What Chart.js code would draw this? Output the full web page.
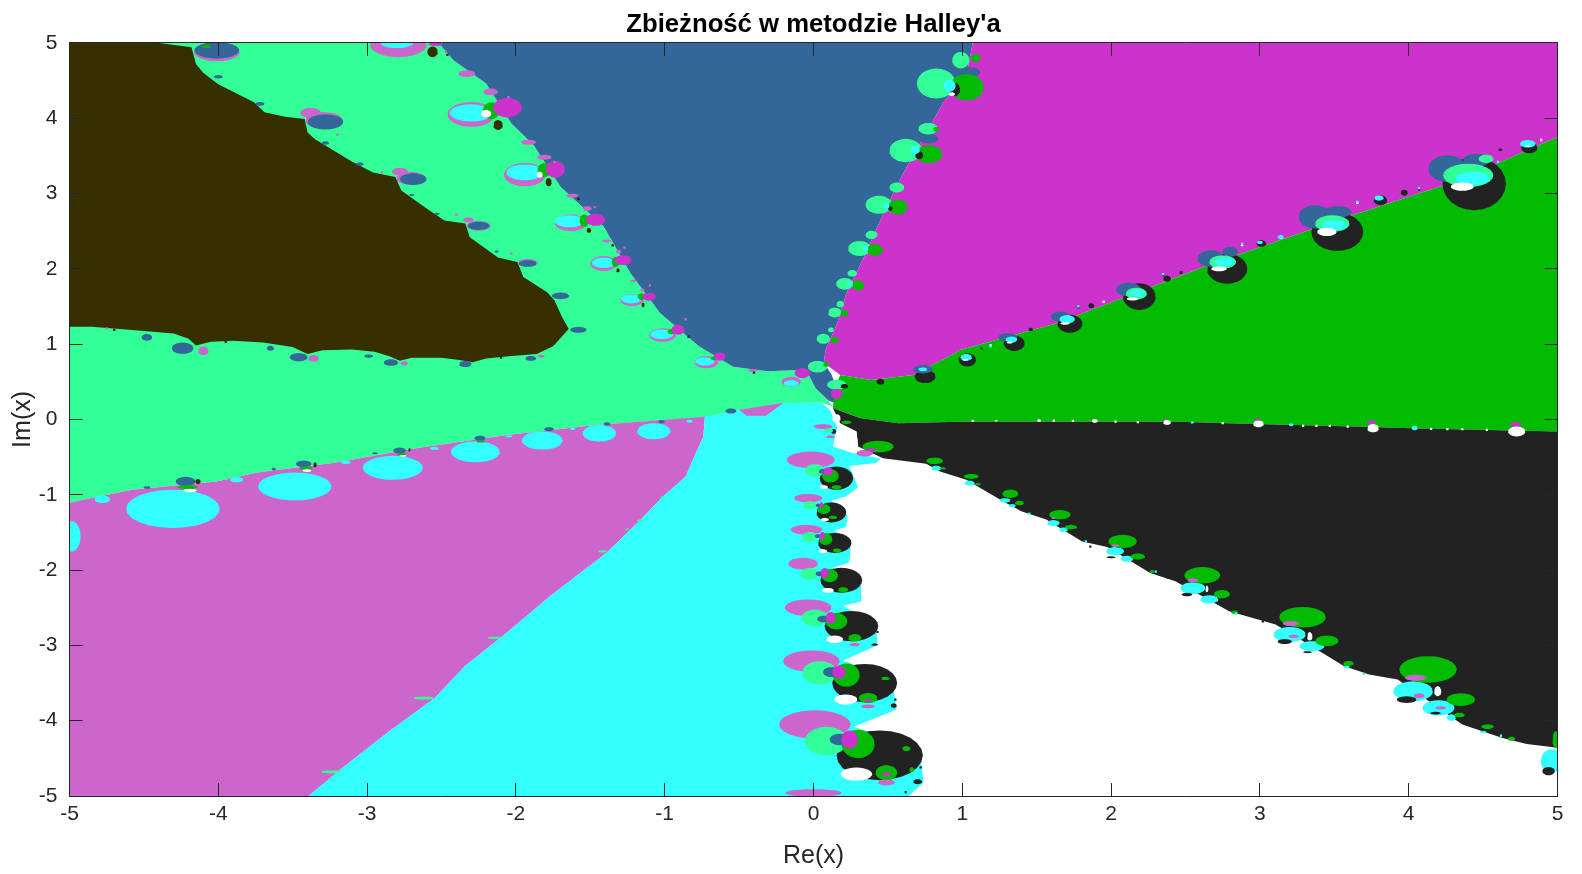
<!DOCTYPE html>
<html>
<head>
<meta charset="utf-8">
<title>Zbieżność w metodzie Halley'a</title>
<script src="https://cdn.jsdelivr.net/npm/chart.js@4"></script>
<style>
html,body{margin:0;padding:0;background:#fff;}
canvas{display:block;}
</style>
</head>
<body>
<canvas id="chart" width="1582" height="874"></canvas>
<script>
const xTicks = [-5,-4,-3,-2,-1,0,1,2,3,4,5];
const yTicks = [-5,-4,-3,-2,-1,0,1,2,3,4,5];

/* basin outlines as [Re, Im] */
const springBasin = [[-5,5],[-2.52,5],[-2.42,4.77],[-2.2,4.46],[-2.03,3.93],[-1.88,3.64],[-1.7,3.09],[-1.41,2.56],[-1.23,1.94],[-1.03,1.41],[-.77,.97],[-.54,.7],[-.31,.64],[-.05,.66],[.014,.414],[.104,.237],[.13,.17],[.053,.225],[-.2,.215],[-.49,.127],[-.73,.03],[-1.46,-.073],[-2.06,-.206],[-2.66,-.38],[-3.23,-.58],[-3.74,-.705],[-4.01,-.824],[-4.58,-.935],[-4.91,-1.067],[-5,-1.11]];
const orchidBasin = [[-5,-1.11],[-4.91,-1.067],[-4.58,-.935],[-4.01,-.824],[-3.74,-.705],[-3.23,-.58],[-2.66,-.38],[-2.06,-.206],[-1.46,-.073],[-.73,.037],[-.74,-.23],[-.8,-.49],[-.86,-.76],[-1.01,-1.02],[-1.16,-1.33],[-1.392,-1.775],[-1.765,-2.337],[-2.07,-2.845],[-2.342,-3.274],[-2.545,-3.7],[-2.851,-4.14],[-3.156,-4.61],[-3.393,-5],[-5,-5]];
const cyanBasin = [[-.73,.037],[-.49,.127],[-.2,.215],[.053,.225],[.11,.13],[.16,-.1],[.13,-.36],[.25,-.44],[.45,-.52],[.42,-.58],[.24,-.62],[.3,-.9],[.22,-1.02],[.12,-1.08],[.2,-1.2],[.23,-1.28],[.22,-1.43],[.14,-1.47],[.22,-1.6],[.25,-1.7],[.24,-1.9],[.13,-1.97],[.25,-2.1],[.32,-2.2],[.32,-2.42],[.2,-2.47],[.3,-2.6],[.42,-2.72],[.43,-3],[.2,-3.2],[.35,-3.32],[.53,-3.5],[.56,-3.85],[.27,-4.08],[.45,-4.2],[.72,-4.5],[.74,-4.82],[.64,-5],[-3.393,-5],[-3.156,-4.61],[-2.851,-4.14],[-2.545,-3.7],[-2.342,-3.274],[-2.07,-2.845],[-1.765,-2.337],[-1.392,-1.775],[-1.16,-1.33],[-1.01,-1.02],[-.86,-.76],[-.8,-.49],[-.74,-.23]];
const blueBasin = [[-2.52,5],[1.07,5],[1.03,4.6],[.87,4.2],[.81,3.99],[.64,3.4],[.59,3.22],[.46,2.69],[.34,2.16],[.22,1.67],[.16,1.28],[.08,.92],[.07,.75],[.12,.6],[.15,.45],[.14,.22],[.1,.25],[.014,.414],[-.05,.66],[-.31,.64],[-.54,.7],[-.77,.97],[-1.03,1.41],[-1.23,1.94],[-1.41,2.56],[-1.7,3.09],[-1.88,3.64],[-2.03,3.93],[-2.2,4.46],[-2.42,4.77]];
const magentaBasin = [[1.07,5],[5,5],[5,3.75],[4.34,3.175],[3.56,2.67],[2.63,2.03],[1.63,1.275],[.98,.92],[.95,.88],[.67,.59],[.39,.525],[.18,.59],[.07,.75],[.08,.92],[.16,1.28],[.22,1.67],[.34,2.16],[.46,2.69],[.59,3.22],[.64,3.4],[.81,3.99],[.87,4.2],[1.03,4.6]];
const greenBasin = [[.18,.59],[.39,.525],[.67,.59],[.95,.88],[.98,.92],[1.63,1.275],[2.63,2.03],[3.56,2.67],[4.34,3.175],[5,3.75],[5,-.16],[4.08,-.12],[3.56,-.09],[2.79,-.05],[2.45,-.03],[.98,-.03],[.57,-.05],[.31,.02],[.13,.15],[.15,.45]];
const blackBasin = [[.13,.15],[.31,.02],[.57,-.05],[.98,-.03],[2.45,-.03],[2.79,-.05],[3.56,-.09],[4.08,-.12],[5,-.16],[5,-4.36],[4.793,-4.31],[4.625,-4.225],[4.36,-4.05],[3.926,-3.452],[3.733,-3.386],[3.564,-3.275],[3.106,-2.723],[2.793,-2.547],[2.432,-2.15],[2.263,-2.04],[1.974,-1.694],[1.805,-1.62],[1.564,-1.33],[1.396,-1.22],[1.25,-1.06],[1.027,-.8],[.85,-.69],[.758,-.59],[.467,-.515],[.3,-.36],[.29,-.16],[.18,-.05]];
const whitePocket = [[.154,-.14],[.288,-.161],[.3,-.36],[.199,-.338],[.165,-.25]];
const oliveBasin = [[-5,5],[-4.41,5],[-4.18,4.94],[-4.15,4.72],[-4.1,4.6],[-4.0,4.45],[-3.85,4.3],[-3.76,4.21],[-3.69,4.08],[-3.55,4.02],[-3.42,3.99],[-3.4,3.81],[-3.35,3.72],[-3.25,3.6],[-3.1,3.42],[-2.96,3.28],[-2.81,3.22],[-2.77,3.04],[-2.6,2.8],[-2.48,2.64],[-2.34,2.6],[-2.31,2.42],[-2.12,2.15],[-1.99,2.09],[-1.95,1.89],[-1.79,1.69],[-1.74,1.58],[-1.69,1.36],[-1.645,1.2],[-1.75,.97],[-1.86,.87],[-2.05,.84],[-2.2,.81],[-2.29,.76],[-2.38,.79],[-2.5,.82],[-2.7,.82],[-2.78,.78],[-2.85,.84],[-2.95,.9],[-3.1,.93],[-3.3,.92],[-3.4,.87],[-3.5,.96],[-3.7,1.02],[-3.9,1.045],[-4.05,1.03],[-4.15,.98],[-4.2,1.07],[-4.3,1.14],[-4.42,1.16],[-4.6,1.19],[-4.85,1.23],[-5,1.23]];
const orchidLens = [[-.5,.13],[-.2,.22],[-.32,.05],[-.45,.05]];

/* small lobes along the basin edges: [Re, Im, half width, half height] */
const orchidLobes = [
 [-2.3,4.05,.16,.165],[-1.94,3.25,.14,.155],[-1.63,2.61,.11,.11],[-1.41,2.07,.09,.1],[-1.22,1.585,.08,.08],[-1.015,1.12,.09,.09],[-.72,.76,.08,.08],[-.15,.5,.065,.065],[-2.79,4.97,.19,.16],
 [-2.33,4.59,.058,.044],[-1.915,3.68,.05,.033],[-1.62,2.97,.04,.026],[-1.39,2.37,.03,.02],[-1.21,1.84,.02,.015],[-.41,.65,.03,.02],[-2.17,4.35,.05,.044],[-1.81,3.48,.05,.033],[-1.52,2.8,.03,.03],[-1.31,2.23,.02,.025],[-1.15,1.72,.015,.02],
 [-4.01,4.88,.155,.125],[-4.08,4.94,.06,.03],[-3.29,3.97,.125,.11],[-3.38,4.07,.07,.066],[-2.705,3.2,.098,.085],[-2.78,3.29,.054,.05],[-2.25,2.57,.08,.065],[-2.32,2.65,.036,.033],[-1.92,2.08,.065,.05],
 [-4.1,.91,.036,.055],[-3.36,.81,.036,.044],[-2.75,.745,.024,.026],[-1.83,.84,.024,.018],
 [.009,-4.05,.24,.188],[-.014,-3.21,.19,.143],[-.036,-2.5,.157,.11],[-.07,-1.915,.1,.077],[-.047,-1.465,.106,.066],[-.036,-1.045,.095,.055],[-.018,-.537,.162,.11],[.064,-.095,.062,.033],[.114,-.23,.028,.018],[.344,-.449,.056,.044],[0,-4.96,.19,.05]
];
const cyanLobes = [
 [-4.305,-1.187,.315,.254],[-3.486,-.89,.247,.185],[-2.827,-.643,.202,.159],[-2.272,-.431,.165,.139],[-1.823,-.28,.138,.121],[-1.439,-.184,.112,.11],[-1.073,-.157,.112,.106],
 [-4.78,-1.06,.052,.05],[-3.876,-.8,.045,.035],[-3.142,-.57,.033,.022],[-2.548,-.385,.03,.02],[-2.047,-.225,.022,.015],[-1.619,-.125,.018,.015],[-.833,-.025,.022,.02],[-4.985,-1.553,.06,.2],
 [-2.3,4.07,.145,.115],[-1.94,3.28,.125,.105],[-1.64,2.63,.098,.08],[-1.41,2.08,.08,.07],[-1.225,1.6,.07,.06],[-1.02,1.13,.078,.065],[-.73,.77,.065,.055],[-.15,.48,.05,.04],[-2.8,5,.11,.07],
 [4.03,-3.61,.133,.132],[4.2,-3.83,.108,.1],[4.287,-3.96,.03,.044],[3.2,-2.856,.108,.1],[3.35,-3.01,.084,.066],[2.55,-2.24,.084,.077],[2.66,-2.39,.06,.055],[2.027,-1.75,.06,.055],[2.106,-1.85,.042,.04],[1.612,-1.376,.042,.04],[1.68,-1.464,.03,.03],[1.287,-1.075,.036,.03],[1.335,-1.146,.024,.022],[4.96,-4.535,.072,.155],[3.583,-3.285,.02,.02],[4.5,-4.15,.024,.015],
 [.825,-.647,.034,.033],[1.049,-.846,.034,.033]
];
const blackLobes = [
 [4.44,3.13,.213,.353],[3.52,2.49,.174,.254],[2.78,2,.135,.2],[2.19,1.63,.11,.177],[1.723,1.27,.084,.12],[1.349,1.01,.071,.1],[1.034,.79,.058,.088],[4.81,3.61,.054,.077],
 [3.81,2.91,.045,.066],[3.01,2.335,.032,.044],[2.376,1.87,.026,.04],[1.867,1.51,.02,.033],[1.46,1.195,.015,.022],[3.97,3.01,.023,.04],[4.615,3.58,.013,.018],[2.47,1.95,.013,.02],[.45,.5,.026,.04],[.75,.57,.07,.088],
 [.445,-4.46,.29,.33],[.344,-3.5,.218,.254],[.255,-2.745,.18,.2],[.187,-2.136,.14,.166],[.143,-1.64,.112,.132],[.12,-1.235,.1,.132],[.154,-.78,.112,.155],[.136,-.16,.017,.033]
];
const blueLobes = [
 [-4.01,4.9,.15,.11],[-3.28,3.95,.12,.1],[-2.69,3.19,.09,.077],[-2.25,2.57,.072,.055],[-1.92,2.07,.06,.044],[-1.7,1.64,.058,.044],[-1.58,1.19,.055,.04],
 [-3.72,4.19,.03,.026],[-3.28,3.67,.025,.022],[-3.05,3.39,.026,.022],[-2.7,2.98,.018,.015],[-2.53,2.73,.018,.015],[-4,4.55,.03,.022],[-2.13,2.23,.015,.015],
 [-4.24,.945,.072,.077],[-4.48,1.09,.036,.044],[-3.46,.825,.06,.055],[-3.65,.945,.024,.033],[-2.84,.755,.048,.044],[-2.34,.735,.042,.04],[-1.9,.81,.036,.033],[-2.99,.84,.03,.022],
 [4.26,3.33,.129,.177],[4.455,3.44,.09,.088],[3.37,2.69,.11,.155],[3.525,2.755,.09,.077],[2.67,2.135,.09,.11],[2.8,2.225,.052,.066],[2.118,1.725,.084,.088],[1.66,1.365,.065,.066],[1.305,1.09,.065,.055],[.735,.665,.065,.055],
 [1.055,4.61,.065,.066],[.773,3.73,.065,.066],
 [-4.22,-.824,.067,.062],[-3.426,-.59,.052,.044],[-2.782,-.414,.042,.04],[-2.242,-.25,.037,.033],[-1.778,-.13,.033,.026],[-1.388,-.06,.022,.022],[-1.022,-.03,.022,.022],[-.555,.112,.037,.033],[-4.48,-.904,.022,.018],[-3.627,-.66,.015,.018],[-2.947,-.45,.018,.013]
];
const springLobes = [
 [.825,4.46,.13,.2],[.99,4.77,.058,.11],[.62,3.57,.11,.155],[.77,3.86,.065,.077],[.44,2.85,.09,.12],[.56,3.08,.05,.066],[.31,2.27,.077,.1],[.39,2.45,.04,.055],[.21,1.8,.058,.077],[.26,1.94,.032,.044],[.143,1.42,.045,.066],[.18,1.53,.026,.044],[.066,1.07,.045,.066],[.117,1.19,.02,.033],[.027,.7,.065,.077],[.156,.46,.065,.066],
 [4.4,3.24,.168,.155],[4.52,3.46,.05,.055],[3.487,2.6,.116,.11],[2.75,2.09,.09,.088],[2.17,1.67,.071,.077],
 [.087,-4.27,.145,.188],[.042,-3.365,.117,.155],[.009,-2.635,.09,.11],[-.025,-2.05,.062,.077],[-.025,-1.56,.05,.066],[-.025,-1.14,.045,.055],[.009,-.678,.067,.084],[.098,-.15,.034,.026],
 [-1.418,-1.752,.03,.015],[-1.163,-1.34,.025,.012],[-1.013,-1.03,.015,.012],[-1.253,-1.456,.015,.01],[-3.24,-4.68,.07,.02],[-2.62,-3.7,.07,.02],[-2.14,-2.9,.05,.015]
];
const greenLobes = [
 [-2.165,4.1,.058,.11],[-1.81,3.31,.045,.09],[-1.54,2.64,.032,.08],[-1.33,2.09,.026,.066],[-1.155,1.63,.026,.045],[-.955,1.165,.026,.035],[-.67,.81,.02,.025],[-4.08,4.95,.03,.02],
 [1.03,4.41,.115,.175],[1.09,4.8,.032,.055],[.775,3.52,.09,.12],[.825,3.85,.02,.033],[.567,2.82,.065,.1],[.413,2.25,.052,.077],[.3,1.78,.04,.066],[.207,1.41,.026,.044],[.143,1.055,.026,.044],[.086,.73,.02,.033],
 [4.13,-3.32,.193,.177],[4.35,-3.72,.096,.084],[3.287,-2.626,.157,.137],[3.45,-2.94,.078,.07],[2.613,-2.07,.12,.11],[2.745,-2.32,.054,.055],[2.077,-1.62,.096,.088],[2.18,-1.82,.048,.04],[1.656,-1.265,.072,.062],[1.73,-1.43,.042,.03],[1.323,-.987,.054,.055],[1.384,-1.11,.03,.03],[3.595,-3.24,.036,.033],[4.53,-4.08,.042,.03],[4.34,-3.925,.036,.03],[4.69,-4.24,.026,.026],[4.99,-4.25,.024,.11],[2.83,-2.56,.024,.022],[2.275,-2.02,.015,.02],
 [.3,-4.31,.112,.188],[.49,-4.69,.073,.1],[.624,-4.37,.028,.033],[.66,-4.65,.017,.033],[.221,-3.395,.09,.155],[.367,-3.7,.062,.066],[.483,-3.44,.028,.022],[.154,-2.68,.073,.11],[.277,-2.9,.045,.05],[.109,-2.074,.056,.088],[.199,-2.26,.034,.033],[.082,-1.59,.045,.077],[.158,-1.74,.028,.026],[.069,-1.19,.045,.066],[.131,-1.3,.028,.022],[.114,-.75,.056,.088],[.154,-.9,.034,.026],
 [.434,-.36,.106,.077],[.221,-.04,.034,.022],[.814,-.55,.056,.044],[1.06,-.757,.05,.033],[.87,-.65,.02,.015],[1.105,-.86,.02,.015],
 [-4.206,-.9,.067,.026],[-3.41,-.648,.045,.022],[-2.767,-.462,.03,.018],[-2.236,-.294,.03,.013]
];
const blueInner = [[.176,-4.25,.067,.077],[.12,-3.355,.056,.066],[.065,-2.65,.04,.044],[.042,-2.05,.028,.033],[.031,-1.55,.022,.026],[.031,-1.14,.017,.022],[.064,-.69,.028,.033]];
const magentaLobes = [
 [-2.057,4.14,.097,.13],[-1.735,3.32,.065,.11],[-1.465,2.65,.065,.08],[-1.28,2.115,.058,.066],[-1.105,1.63,.045,.055],[-.91,1.19,.045,.066],[-.63,.835,.04,.055],[-.075,.615,.052,.066],[-2.54,4.98,.05,.02],
 [.156,.34,.04,.066],[.243,-4.25,.056,.12],[.172,-3.355,.045,.088],[.116,-2.635,.034,.077],[.076,-2.04,.028,.066],[.06,-1.55,.017,.055],[.053,-1.14,.013,.04],[.098,-.69,.034,.055],[.389,-.404,.039,.022],[.49,-4.71,.034,.022],[.367,-3.73,.028,.018],
 [3.75,-.04,.032,.026],[4.72,-.07,.039,.033],[2.98,-.005,.02,.02],[2.37,-.006,.015,.015]
];
const blackInner = [
 [.95,4.38,.035,.09],[.71,3.51,.026,.055],[.516,2.8,.015,.03],[.207,.44,.026,.03],
 [3.986,-3.72,.066,.044],[3.167,-2.95,.048,.033],[2.51,-2.325,.036,.022],[2,-1.83,.03,.013],[4.18,-3.9,.036,.018],[3.32,-3.09,.03,.013],[4.94,-4.67,.042,.055],
 [.7,-4.81,.03,.033],[.539,-3.8,.02,.03],[.41,-2.99,.022,.015]
];
const cyanInner = [
 [.915,4.43,.04,.08],[.683,3.58,.032,.055],[.49,2.84,.02,.04],[.35,2.27,.018,.04],[.24,1.8,.015,.025],
 [4.43,3.2,.116,.088],[3.5,2.58,.084,.066],[2.763,2.09,.065,.055],[2.175,1.68,.052,.044],[1.705,1.33,.052,.055],[1.33,1.06,.039,.04],[1.026,.825,.039,.044],[4.8,3.66,.052,.05],[3.8,2.94,.032,.033],[3,2.35,.02,.02],[3.14,2.42,.02,.03],[.735,.665,.03,.025],
 [3.78,-.14,.012,.02],[4.74,-.147,.032,.026],[4.04,-.115,.02,.03],[3.21,-.07,.015,.02],[2.545,-.04,.012,.015]
];
const orchidInner = [
 [4.046,-3.43,.072,.04],[3.208,-2.71,.054,.033],[2.55,-2.136,.036,.026],[2.027,-1.676,.026,.018],[1.612,-1.31,.014,.013],[4.07,-3.67,.036,.033],[4.215,-3.83,.036,.022],[3.227,-2.88,.036,.022],
 [.49,-4.82,.056,.04],[.367,-3.81,.045,.026],[.277,-2.99,.034,.022]
];
const whiteLobes = [
 [-2.2,4.06,.035,.05],[-1.84,3.25,.02,.04],
 [.93,4.32,.02,.025],[4.36,3.09,.077,.055],[3.45,2.49,.065,.055],[2.725,2,.052,.033],[2.144,1.6,.039,.022],[1.69,1.275,.032,.018],[1.318,1.02,.02,.013],[1.02,.79,.02,.012],[4.8,3.63,.018,.01],
 [3.76,-.117,.039,.055],[4.726,-.16,.058,.066],[2.99,-.06,.036,.044],[2.376,-.04,.026,.033],[1.89,-.02,.02,.026],[1.516,-.015,.013,.02],[1.227,-.015,.01,.012],[4.36,-.13,.01,.015],
 [4.195,-3.61,.024,.066],[3.335,-2.88,.018,.055],[2.644,-2.25,.01,.044],
 [.288,-4.71,.106,.088],[.217,-3.72,.078,.066],[.143,-2.92,.056,.05],[.098,-2.27,.039,.033],[.064,-1.75,.028,.026],[.076,-1.33,.028,.022],[.069,-.9,.028,.026],[.154,.015,.028,.055],
 [-4.19,-.944,.045,.022],[-3.405,-.679,.03,.018],[-2.758,-.484,.022,.013]
];
const oliveLobes = [
 [-2.12,3.91,.032,.066],[-1.78,3.15,.02,.055],[-1.51,2.51,.015,.033],[-1.315,1.98,.012,.026],[-1.145,1.52,.01,.03],[-2.56,4.88,.035,.07],
 [-4.137,-.824,.018,.033],[-3.35,-.603,.012,.033],[-2.716,-.405,.009,.022]
];

/* single pixel noise on the edges */
const whiteSpecks = [[1.07,-.02],[1.615,-.015],[1.744,-.02],[2.03,-.03],[2.18,-.037],[2.75,-.05],[3.29,-.085],[3.38,-.085],[3.47,-.085],[3.59,-.095],[4.15,-.125],[4.525,-.14],[4.26,-.13],[1.19,.988],[1.95,1.56],[2.88,2.313],[3.655,2.874],[4.89,3.71]];
const blackSpecks = [[1.13,.944],[1.78,1.487],[2.35,1.915],[4.07,3.05],[-2.46,4.84],[-1.58,2.93],[-1.35,2.31],[-.84,1.1],[-.4,.62],[-4.7,1.19],[-3.95,1.03],[-2.1,.82],[.62,-4.95],[.72,-4.62],[.55,-3.72],[.43,-2.82],[1.86,-1.69],[2.38,-2.1],[3.02,-2.68]];
const cyanSpecks = [[1.19,.97],[1.78,1.5],[2.35,1.93],[2.88,2.33],[3.655,2.89],[4.07,3.07],[4.6,3.42],[1.45,-1.25],[1.83,-1.62],[2.3,-2.02],[2.84,-2.58],[3.7,-3.38],[4.62,-4.2],[.38,-.53],[.2,-.62]];
const orchidSpecks = [[-2.47,4.88],[-2.05,4.28],[-1.74,3.42],[-1.47,2.82],[-1.27,2.28],[-1.1,1.78],[-.86,1.33],[-4.75,1.21],[-3.2,3.78],[-2.9,3.28],[-2.4,2.72],[-2.03,2.2]];

const rim = [[1,0],[.966,.259],[.866,.5],[.707,.707],[.5,.866],[.259,.966],[0,1],[-.259,.966],[-.5,.866],[-.707,.707],[-.866,.5],[-.966,.259],[-1,0],[-.966,-.259],[-.866,-.5],[-.707,-.707],[-.5,-.866],[-.259,-.966],[0,-1],[.259,-.966],[.5,-.866],[.707,-.707],[.866,-.5],[.966,-.259]];

function outline(poly){
	return poly.map(function(p){ return {x:p[0],y:p[1]}; });
}

function lobes(list){
	var pts = [];
	list.forEach(function(l){
		rim.forEach(function(r){ pts.push({x:l[0]+r[0]*l[2],y:l[1]+r[1]*l[3]}); });
		pts.push({x:NaN,y:NaN});
	});
	return pts;
}

function layer(color,pts){
	return {data:pts,backgroundColor:color,borderColor:color,borderWidth:0,showLine:true,fill:'shape',pointRadius:0,tension:0};
}

function specks(color,list){
	return {data:outline(list),backgroundColor:color,borderWidth:0,showLine:false,pointRadius:1.6,pointStyle:'rect'};
}

const spring="#33FF99", orchid="#CC66CC", cyan="#33FFFF", blue="#336699", magenta="#CC33CC", green="#00BB00", black="#222222", olive="#363000", white="#FFFFFF";
const ink="#262626";

// bottom to top, chart.js paints the first dataset last so it gets reversed below
var layers = [
	layer(spring,outline(springBasin)),
	layer(orchid,outline(orchidBasin)),
	layer(cyan,outline(cyanBasin)),
	layer(orchid,outline(orchidLens)),
	layer(blue,outline(blueBasin)),
	layer(magenta,outline(magentaBasin)),
	layer(green,outline(greenBasin)),
	layer(black,outline(blackBasin)),
	layer(white,outline(whitePocket)),
	layer(olive,outline(oliveBasin)),
	layer(orchid,lobes(orchidLobes)),
	layer(cyan,lobes(cyanLobes)),
	layer(black,lobes(blackLobes)),
	layer(blue,lobes(blueLobes)),
	layer(spring,lobes(springLobes)),
	layer(green,lobes(greenLobes)),
	layer(blue,lobes(blueInner)),
	layer(magenta,lobes(magentaLobes)),
	layer(black,lobes(blackInner)),
	layer(cyan,lobes(cyanInner)),
	layer(orchid,lobes(orchidInner)),
	layer(white,lobes(whiteLobes)),
	layer(olive,lobes(oliveLobes)),
	specks(white,whiteSpecks),
	specks(black,blackSpecks),
	specks(cyan,cyanSpecks),
	specks(orchid,orchidSpecks)
];

function setTicks(list){
	return function(scale){ scale.ticks = list.map(function(v){ return {value:v}; }); };
}

function axis(pos,list,size,labelled,title){
	var horizontal = pos=="bottom" || pos=="top";
	return {
		type:"linear",
		axis:horizontal?"x":"y",
		position:pos,
		min:-5,
		max:5,
		afterBuildTicks:setTicks(list),
		afterFit:function(s){ if(horizontal){ s.height=size; } else { s.width=size; } },
		grid:{drawOnChartArea:false,drawTicks:true,tickLength:-13,color:ink,lineWidth:1,z:1},
		border:{color:ink,width:1,z:1},
		ticks:{display:labelled,autoSkip:false,maxRotation:0,color:ink,padding:horizontal?18.5:25,font:{family:"'Liberation Sans'",size:21}},
		title:title?{display:true,text:title,color:ink,font:{family:"'Liberation Sans'",size:25},padding:{top:8,bottom:3}}:{display:false}
	};
}

new Chart(document.getElementById("chart"),{
	type:"scatter",
	data:{datasets:layers.reverse()},
	options:{
		responsive:false,
		animation:false,
		events:[],
		layout:{padding:0},
		plugins:{
			legend:{display:false},
			tooltip:{enabled:false},
			title:{display:true,text:"Zbieżność w metodzie Halley'a",color:"#000",fullSize:false,font:{family:"'Liberation Sans'",size:25.7,weight:"bold"},padding:{top:9,bottom:3}}
		},
		scales:{
			x:axis("bottom",xTicks,78,true,"Re(x)"),
			y:axis("left",yTicks,69.5,true,"Im(x)"),
			x2:axis("top",xTicks,0,false),
			y2:axis("right",yTicks,24.5,false)
		}
	}
});
</script>
</body>
</html>
